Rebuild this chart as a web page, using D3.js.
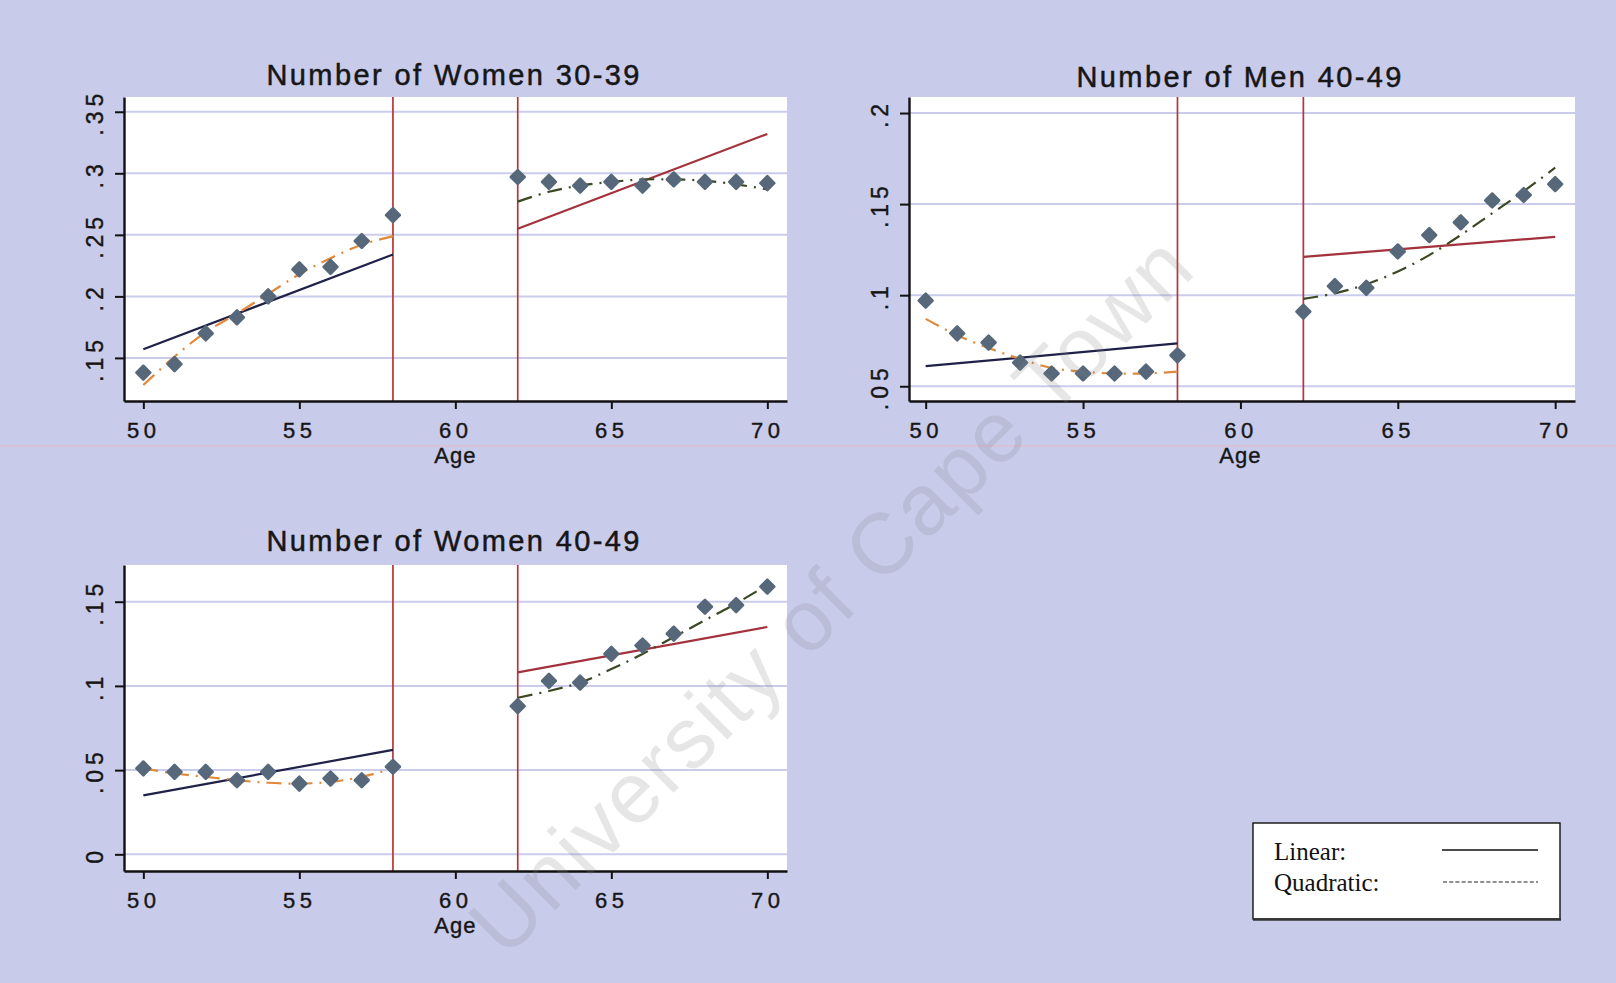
<!DOCTYPE html>
<html>
<head>
<meta charset="utf-8">
<script src="https://cdn.jsdelivr.net/npm/d3@7"></script>
<style>
  html, body { margin: 0; padding: 0; background: #c9cbeb; }
  svg { display: block; }
</style>
</head>
<body>
<svg id="chart" width="1616" height="983"></svg>
<script>
// ---- shared axes / cut-offs ----
const xTicks = [50, 55, 60, 65, 70];
const cutoffAges = [58, 62];
const agesBefore = [50, 51, 52, 53, 54, 55, 56, 57, 58];
const agesAfter = [62, 63, 64, 65, 66, 67, 68, 69, 70];
const fitEndsBefore = [50, 58];
const fitEndsAfter = [62, 70];

// ---- Number of Women 30-39 ----
const women3039Before = [0.138, 0.145, 0.170, 0.183, 0.200, 0.222, 0.224, 0.245, 0.266];
const women3039After = [0.297, 0.293, 0.290, 0.293, 0.290, 0.295, 0.293, 0.293, 0.292];
const women3039LinearBefore = [0.157, 0.234];
const women3039LinearAfter = [0.255, 0.332];
const women3039QuadBefore = [0.128, 0.151, 0.171, 0.186, 0.202, 0.218, 0.231, 0.242, 0.249];
const women3039QuadAfter = [0.277, 0.285, 0.290, 0.293, 0.295, 0.295, 0.294, 0.291, 0.287];
const women3039Ticks = [0.15, 0.2, 0.25, 0.3, 0.35];
const women3039TickLabels = [".15", ".2", ".25", ".3", ".35"];

// ---- Number of Men 40-49 ----
const men4049Before = [0.097, 0.079, 0.074, 0.063, 0.057, 0.057, 0.057, 0.058, 0.067];
const men4049After = [0.091, 0.105, 0.104, 0.124, 0.133, 0.140, 0.152, 0.155, 0.161];
const men4049LinearBefore = [0.061, 0.0735];
const men4049LinearAfter = [0.121, 0.132];
const men4049QuadBefore = [0.087, 0.078, 0.071, 0.065, 0.060, 0.058, 0.057, 0.057, 0.058];
const men4049QuadAfter = [0.098, 0.101, 0.106, 0.113, 0.122, 0.133, 0.145, 0.157, 0.170];
const men4049Ticks = [0.05, 0.1, 0.15, 0.2];
const men4049TickLabels = [".05", ".1", ".15", ".2"];

// ---- Number of Women 40-49 ----
const women4049Before = [0.051, 0.049, 0.049, 0.044, 0.049, 0.042, 0.045, 0.044, 0.052];
const women4049After = [0.088, 0.103, 0.102, 0.119, 0.124, 0.131, 0.147, 0.148, 0.159];
const women4049LinearBefore = [0.035, 0.062];
const women4049LinearAfter = [0.108, 0.135];
const women4049QuadBefore = [0.051, 0.048, 0.046, 0.044, 0.0425, 0.042, 0.043, 0.046, 0.051];
const women4049QuadAfter = [0.093, 0.097, 0.102, 0.110, 0.119, 0.129, 0.139, 0.149, 0.160];
const women4049Ticks = [0, 0.05, 0.1, 0.15];
const women4049TickLabels = ["0", ".05", ".1", ".15"];

// ---- legend ----
const legendLabels = ["Linear:", "Quadratic:"];

// ---- panel layout ----
const panels = [
  {
    title: "Number of Women 30-39", titleX: 453, titleY: 85, titleLen: 373,
    left: 124, right: 787, top: 97, bottom: 401,
    xDomain: [49.38, 70.63], yDomain: [0.115, 0.362],
    before: women3039Before, after: women3039After,
    linBefore: women3039LinearBefore, linAfter: women3039LinearAfter,
    quadBefore: women3039QuadBefore, quadAfter: women3039QuadAfter,
    yTicks: women3039Ticks, yLabels: women3039TickLabels
  },
  {
    title: "Number of Men 40-49", titleX: 1239, titleY: 87, titleLen: 325,
    left: 909, right: 1575, top: 97, bottom: 401,
    xDomain: [49.47, 70.63], yDomain: [0.0419, 0.2088],
    before: men4049Before, after: men4049After,
    linBefore: men4049LinearBefore, linAfter: men4049LinearAfter,
    quadBefore: men4049QuadBefore, quadAfter: men4049QuadAfter,
    yTicks: men4049Ticks, yLabels: men4049TickLabels
  },
  {
    title: "Number of Women 40-49", titleX: 453, titleY: 551, titleLen: 373,
    left: 124, right: 787, top: 565, bottom: 871,
    xDomain: [49.38, 70.63], yDomain: [-0.0099, 0.1718],
    before: women4049Before, after: women4049After,
    linBefore: women4049LinearBefore, linAfter: women4049LinearAfter,
    quadBefore: women4049QuadBefore, quadAfter: women4049QuadAfter,
    yTicks: women4049Ticks, yLabels: women4049TickLabels
  }
];

const sansFont = "'Liberation Sans', Arial, sans-serif";
const serifFont = "'Liberation Serif', 'Times New Roman', serif";

const colors = {
  marker: "#56687a",
  linBefore: "#1f2148",
  quadBefore: "#e0893a",
  linAfter: "#a3323c",
  quadAfter: "#3b4824",
  cutoff: "#b8343a",
  grid: "#c9cceb",
  text: "#161616"
};

const svg = d3.select("#chart");

// background
svg.append("rect").attr("width", 1616).attr("height", 983).attr("fill", "#c9cbeb");

// faint horizontal streak across the page
svg.append("line")
  .attr("x1", 0).attr("x2", 1616).attr("y1", 446).attr("y2", 446)
  .attr("stroke", "#e0bccb").attr("stroke-width", 1.6).attr("opacity", 0.8);

panels.forEach(p => {
  const g = svg.append("g");
  const x = d3.scaleLinear().domain(p.xDomain).range([p.left, p.right]);
  const y = d3.scaleLinear().domain(p.yDomain).range([p.bottom, p.top]);

  // plot area
  g.append("rect")
    .attr("x", p.left).attr("y", p.top)
    .attr("width", p.right - p.left).attr("height", p.bottom - p.top)
    .attr("fill", "#ffffff");

  // gridlines
  g.selectAll(".grid").data(p.yTicks).join("line")
    .attr("x1", p.left).attr("x2", p.right)
    .attr("y1", d => y(d)).attr("y2", d => y(d))
    .attr("stroke", colors.grid).attr("stroke-width", 2);

  // title
  g.append("text")
    .attr("x", p.titleX).attr("y", p.titleY)
    .attr("text-anchor", "middle")
    .attr("textLength", p.titleLen).attr("lengthAdjust", "spacing")
    .attr("font-family", sansFont).attr("font-size", 29)
    .attr("fill", colors.text).attr("stroke", colors.text).attr("stroke-width", 0.5)
    .text(p.title);

  // cut-off verticals
  g.selectAll(".cut").data(cutoffAges).join("line")
    .attr("x1", d => x(d)).attr("x2", d => x(d))
    .attr("y1", p.top).attr("y2", p.bottom)
    .attr("stroke", colors.cutoff).attr("stroke-width", 1.7);

  const line = d3.line().x(d => x(d[0])).y(d => y(d[1]));
  const curve = d3.line().x(d => x(d[0])).y(d => y(d[1])).curve(d3.curveCatmullRom);

  // fitted lines
  g.append("path").datum(d3.zip(fitEndsBefore, p.linBefore)).attr("d", line)
    .attr("fill", "none").attr("stroke", colors.linBefore).attr("stroke-width", 2.2);
  g.append("path").datum(d3.zip(fitEndsAfter, p.linAfter)).attr("d", line)
    .attr("fill", "none").attr("stroke", colors.linAfter).attr("stroke-width", 2.2);
  g.append("path").datum(d3.zip(agesBefore, p.quadBefore)).attr("d", curve)
    .attr("fill", "none").attr("stroke", colors.quadBefore).attr("stroke-width", 2.2)
    .attr("stroke-dasharray", "15,7,2,7");
  g.append("path").datum(d3.zip(agesAfter, p.quadAfter)).attr("d", curve)
    .attr("fill", "none").attr("stroke", colors.quadAfter).attr("stroke-width", 2.2)
    .attr("stroke-dasharray", "15,7,2,7");

  // observed points
  const pts = d3.zip(agesBefore, p.before).concat(d3.zip(agesAfter, p.after));
  const sym = d3.symbol().type(d3.symbolSquare).size(96);
  g.selectAll(".pt").data(pts).join("path")
    .attr("d", sym)
    .attr("transform", d => `translate(${x(d[0])},${y(d[1])}) rotate(45)`)
    .attr("fill", colors.marker)
    .attr("stroke", colors.marker).attr("stroke-width", 2.6)
    .attr("stroke-linejoin", "round");

  // x axis
  const xAxis = g.append("g")
    .attr("transform", `translate(0,${p.bottom})`)
    .call(d3.axisBottom(x).tickValues(xTicks).tickSize(8).tickSizeOuter(0).tickPadding(13));
  xAxis.select(".domain").attr("stroke", "#111").attr("stroke-width", 2.4);
  xAxis.selectAll(".tick line").attr("stroke", "#111").attr("stroke-width", 2);
  xAxis.selectAll(".tick text")
    .attr("font-family", sansFont).attr("font-size", 22)
    .attr("letter-spacing", "4.5px").attr("fill", colors.text)
    .attr("stroke", colors.text).attr("stroke-width", 0.4)
    .attr("dy", "0.71em");

  // x axis title
  g.append("text")
    .attr("x", x(60)).attr("y", p.bottom + 62)
    .attr("text-anchor", "middle")
    .attr("font-family", sansFont).attr("font-size", 22)
    .attr("letter-spacing", "1px").attr("fill", colors.text)
    .attr("stroke", colors.text).attr("stroke-width", 0.4)
    .text("Age");

  // y axis
  const yAxis = g.append("g")
    .attr("transform", `translate(${p.left},0)`)
    .call(d3.axisLeft(y).tickValues(p.yTicks)
      .tickFormat((d, i) => p.yLabels[i]).tickSize(9).tickSizeOuter(0));
  yAxis.select(".domain").attr("stroke", "#111").attr("stroke-width", 2.4);
  yAxis.selectAll(".tick line").attr("stroke", "#111").attr("stroke-width", 2);
  yAxis.selectAll(".tick text")
    .attr("x", null).attr("dy", null)
    .attr("text-anchor", "middle")
    .attr("transform", "translate(-21,0) rotate(-90)")
    .attr("font-family", sansFont).attr("font-size", 23)
    .attr("letter-spacing", "5px").attr("fill", colors.text)
    .attr("stroke", colors.text).attr("stroke-width", 0.4);
});

// legend
const lg = svg.append("g");
lg.append("rect")
  .attr("x", 1253).attr("y", 823).attr("width", 307).attr("height", 96)
  .attr("fill", "#ffffff").attr("stroke", "#111").attr("stroke-width", 1.4);
lg.append("line").attr("x1", 1253).attr("x2", 1561).attr("y1", 919.5).attr("y2", 919.5)
  .attr("stroke", "#333").attr("stroke-width", 2.5);
lg.selectAll(".lab").data(legendLabels).join("text")
  .attr("x", 1274).attr("y", (d, i) => 860 + i * 31)
  .attr("font-family", serifFont).attr("font-size", 25).attr("fill", "#111")
  .text(d => d);
lg.append("line").attr("x1", 1442).attr("x2", 1538).attr("y1", 850).attr("y2", 850)
  .attr("stroke", "#111").attr("stroke-width", 1.6);
lg.append("line").attr("x1", 1443).attr("x2", 1538).attr("y1", 882).attr("y2", 882)
  .attr("stroke", "#222").attr("stroke-width", 1.1).attr("stroke-dasharray", "4,2.2");

// diagonal watermark
svg.append("text")
  .attr("transform", "translate(830,595) rotate(-44.8)")
  .attr("text-anchor", "middle").attr("dy", "0.35em")
  .attr("textLength", 975).attr("lengthAdjust", "spacing")
  .attr("font-family", sansFont).attr("font-size", 86)
  .attr("fill", "#85858c").attr("opacity", 0.2)
  .text("University of Cape Town");
</script>
</body>
</html>
